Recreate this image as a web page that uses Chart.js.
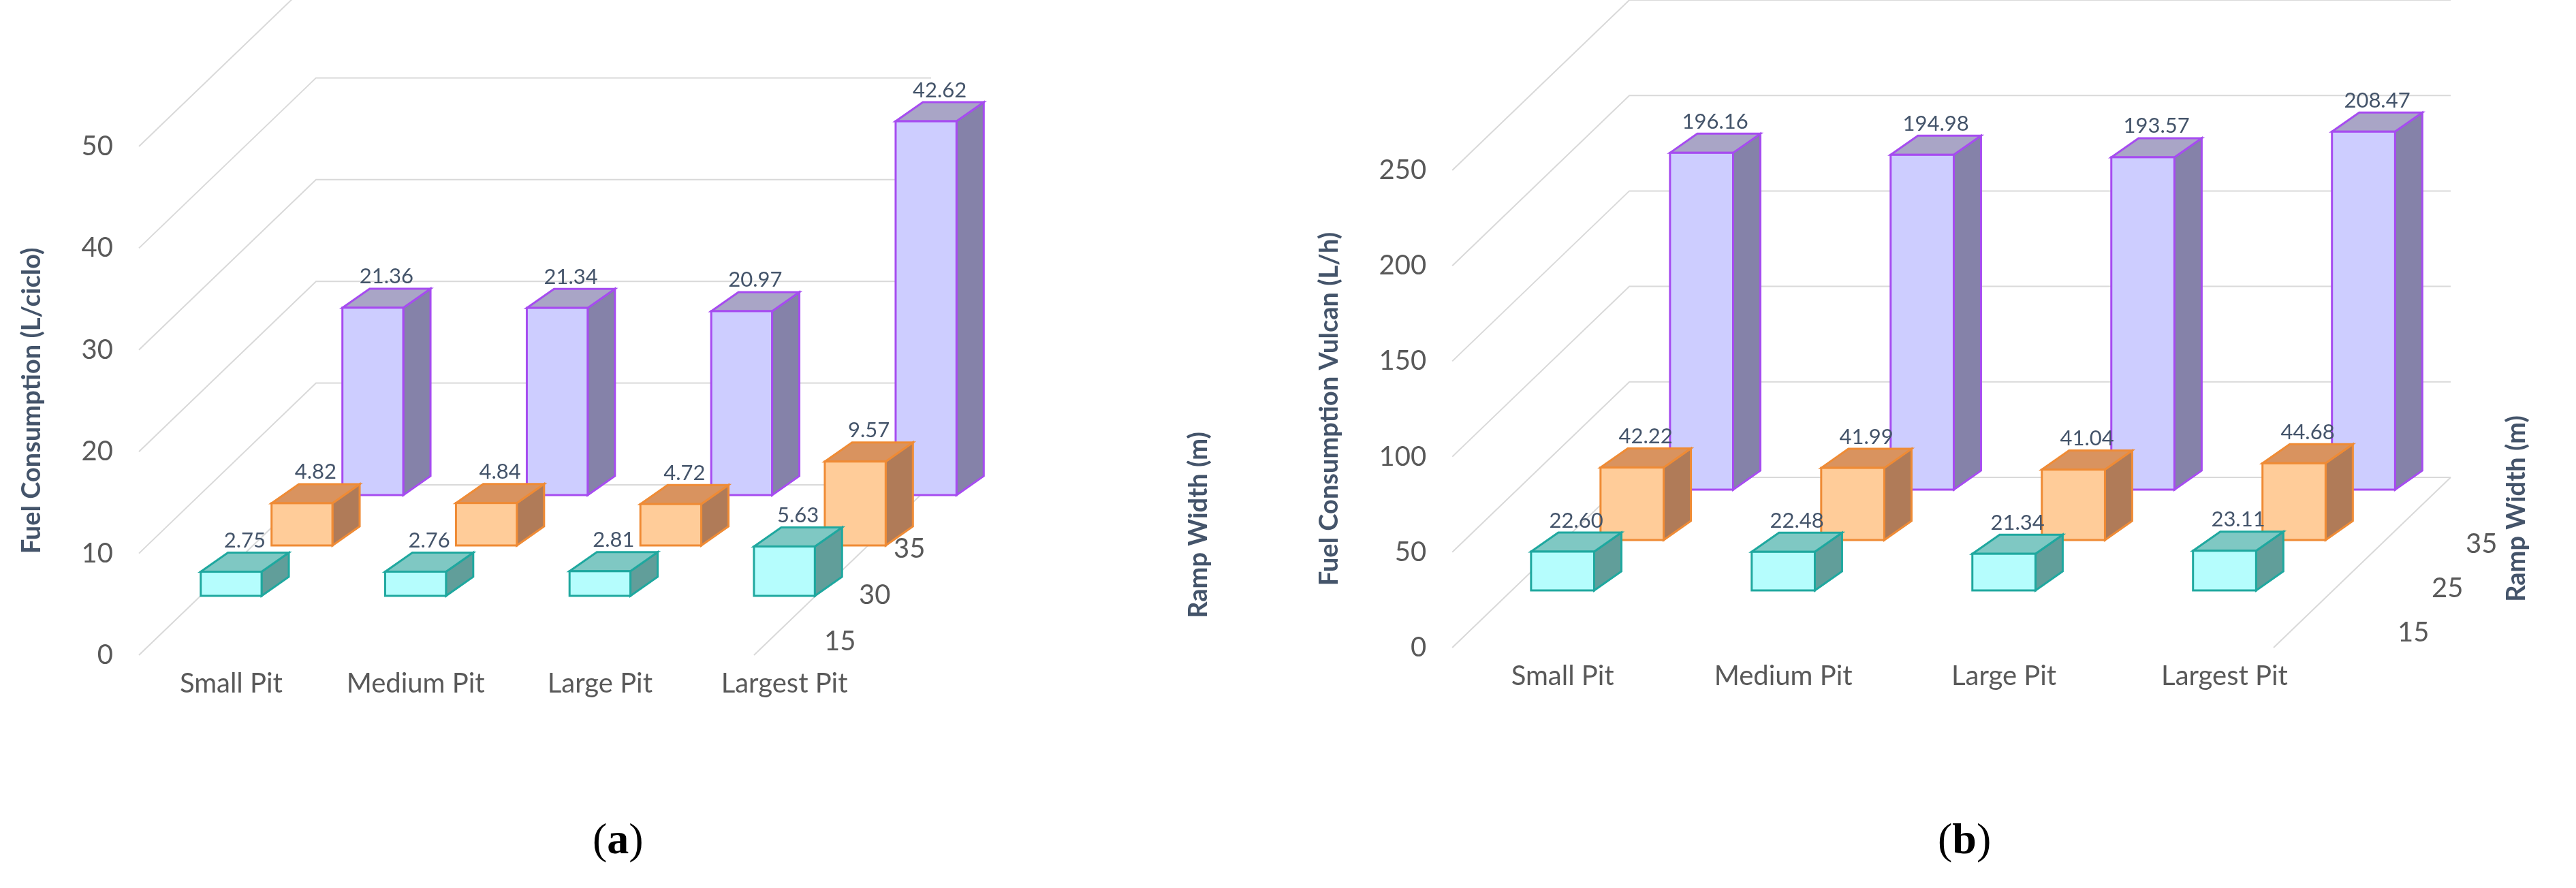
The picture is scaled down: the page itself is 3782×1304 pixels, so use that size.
<!DOCTYPE html>
<html>
<head>
<meta charset="utf-8">
<script src="https://cdn.jsdelivr.net/npm/chart.js@4.4.1/dist/chart.umd.min.js"></script>
<style>
  body { margin:0; background:#fff; width:3782px; height:1304px; position:relative; overflow:hidden; }
  canvas { position:absolute; top:0; }
  .cap { position:absolute; top:1195px; font-family:"Liberation Serif", serif; font-size:64px; color:#000; }
</style>
</head>
<body>
<canvas id="chartA" width="1860" height="1100" style="left:0"></canvas>
<canvas id="chartB" width="1877" height="1100" style="left:1905px"></canvas>
<div class="cap" style="left:870px">(<b>a</b>)</div>
<div class="cap" style="left:2845px">(<b>b</b>)</div>
<script>
// data
var pits = ['Small Pit', 'Medium Pit', 'Large Pit', 'Largest Pit'];

var rampA = ['15', '30', '35'];
var cicloW15 = [2.75, 2.76, 2.81, 5.63];
var cicloW30 = [4.82, 4.84, 4.72, 9.57];
var cicloW35 = [21.36, 21.34, 20.97, 42.62];
var ticksA = [0, 10, 20, 30, 40, 50];

var rampB = ['15', '25', '35'];
var vulcanW15 = [22.60, 22.48, 21.34, 23.11];
var vulcanW25 = [42.22, 41.99, 41.04, 44.68];
var vulcanW35 = [196.16, 194.98, 193.57, 208.47];
var ticksB = [0, 50, 100, 150, 200, 250];

var colors = [
    {front:'#b5fdfd', top:'#7fc8c3', side:'#619e9a', edge:'#1fa89f'},
    {front:'#ffcc99', top:'#d9935f', side:'#b07b58', edge:'#ef8b35'},
    {front:'#cdcdff', top:'#a9a5c6', side:'#8582a9', edge:'#a64cf0'}
];

function draw_box(ctx, x0, x1, yTop, yBot, dx, dy, c){
    ctx.lineWidth = 3;
    ctx.strokeStyle = c.edge;
    ctx.fillStyle = c.side;
    ctx.beginPath();
    ctx.moveTo(x1, yTop); ctx.lineTo(x1+dx, yTop-dy); ctx.lineTo(x1+dx, yBot-dy); ctx.lineTo(x1, yBot);
    ctx.closePath(); ctx.fill(); ctx.stroke();
    ctx.fillStyle = c.top;
    ctx.beginPath();
    ctx.moveTo(x0, yTop); ctx.lineTo(x0+dx, yTop-dy); ctx.lineTo(x1+dx, yTop-dy); ctx.lineTo(x1, yTop);
    ctx.closePath(); ctx.fill(); ctx.stroke();
    ctx.fillStyle = c.front;
    ctx.fillRect(x0, yTop, x1-x0, yBot-yTop);
    ctx.strokeRect(x0, yTop, x1-x0, yBot-yTop);
}

const box3d = {
    id: 'box3d',
    beforeDatasetsDraw(chart, args, o){
        var ctx = chart.ctx, a = chart.chartArea, ys = chart.scales.y;
        ctx.save();
        ctx.strokeStyle = '#d9d9d9';
        ctx.lineWidth = 2;
        ys.ticks.forEach(function(t){
            var y = ys.getPixelForValue(t.value);
            ctx.beginPath();
            ctx.moveTo(a.left, y);
            ctx.lineTo(a.left + o.wall[0], y - o.wall[1]);
            ctx.lineTo(a.right + o.wallRight, y - o.wall[1]);
            ctx.stroke();
        });
        var y0 = ys.getPixelForValue(0);
        ctx.beginPath();
        ctx.moveTo(a.right + o.wallRight - o.wall[0], y0);
        ctx.lineTo(a.right + o.wallRight, y0 - o.wall[1]);
        ctx.stroke();
        ctx.restore();
    },
    afterDatasetsDraw(chart, args, o){
        var ctx = chart.ctx, a = chart.chartArea, ys = chart.scales.y;
        ctx.save();
        for (var i = 2; i >= 0; i--){
            var meta = chart.getDatasetMeta(i);
            var sx = i * o.step[0], sy = o.lift + i * o.step[1];
            meta.data.forEach(function(bar, j){
                var x0 = bar.x - bar.width/2 + sx, x1 = bar.x + bar.width/2 + sx;
                var yTop = bar.y - sy, yBot = bar.base - sy;
                draw_box(ctx, x0, x1, yTop, yBot, o.depth[0], o.depth[1], colors[i]);
                var v = chart.data.datasets[i].data[j];
                ctx.fillStyle = '#44546a';
                ctx.font = '31px Lato';
                ctx.textAlign = 'center';
                ctx.textBaseline = 'bottom';
                ctx.fillText(v.toFixed(2), (x0 + x1)/2 + o.depth[0]/2, yTop - o.depth[1] - 2);
            });
        }
        // ramp width axis
        var y0 = ys.getPixelForValue(0);
        ctx.fillStyle = '#595959';
        ctx.font = '40px Lato';
        ctx.textAlign = 'left';
        ctx.textBaseline = 'middle';
        o.ramp.forEach(function(lab, i){
            ctx.fillText(lab, a.right + o.rampX + i*o.rampStep[0], y0 - o.rampY - i*o.rampStep[1]);
        });
        ctx.translate(o.titlePos[0], o.titlePos[1]);
        ctx.rotate(-Math.PI/2);
        ctx.textAlign = 'center';
        ctx.fillStyle = '#44546a';
        ctx.font = 'bold 38px Lato';
        ctx.fillText('Ramp Width (m)', 0, 0);
        ctx.restore();
    }
};

function make_chart(id, series, ramp, ticks, barMax, yTitle, pad, barPct, extra){
    var ctx = document.getElementById(id).getContext('2d');
    return new Chart(ctx, {
        type: 'bar',
        data: {
            labels: pits,
            datasets: series.map(function(d, i){
                return {label: ramp[i], data: d, grouped: false, yAxisID: 'yb',
                        backgroundColor: 'rgba(0,0,0,0)', borderWidth: 0,
                        barPercentage: barPct, categoryPercentage: 0.55};
            })
        },
        options: {
            responsive: false,
            animation: false,
            devicePixelRatio: 1,
            layout: {padding: pad},
            plugins: {
                legend: {display: false},
                tooltip: {enabled: false},
                box3d: extra
            },
            scales: {
                x: {
                    grid: {display: false}, border: {display: false},
                    ticks: {color: '#595959', font: {family: 'Lato', size: 40}, padding: 10}
                },
                y: {
                    min: ticks[0], max: ticks[ticks.length-1],
                    afterBuildTicks: function(s){ s.ticks = ticks.map(function(v){ return {value: v}; }); },
                    grid: {display: false}, border: {display: false},
                    ticks: {color: '#595959', font: {family: 'Lato', size: 40}, padding: 30},
                    title: {display: true, text: yTitle, color: '#44546a',
                            font: {family: 'Lato', size: 38, weight: 'bold'}, padding: {bottom: 20}}
                },
                // perspective: bars stand on a shorter scale than the front axis
                yb: {display: false, min: 0, max: barMax}
            }
        },
        plugins: [box3d]
    });
}

make_chart('chartA', [cicloW15, cicloW30, cicloW35], rampA, ticksA, 58,
    'Fuel Consumption (L/ciclo)',
    {top: 215, right: 573, bottom: 62, left: 20}, 0.6,
    {step: [104, 74], lift: 87, depth: [40, 28], wall: [260, 250], wallRight: 80,
     ramp: rampA, rampX: -77, rampY: 20, rampStep: [51, 68], titlePos: [1760, 771]});

make_chart('chartB', [vulcanW15, vulcanW25, vulcanW35], rampB, ticksB, 278,
    'Fuel Consumption Vulcan (L/h)',
    {top: 250, right: 354, bottom: 73, left: 20}, 0.52,
    {step: [102, 74], lift: 84, depth: [40, 28], wall: [260, 250], wallRight: 170,
     ramp: rampB, rampX: 92, rampY: 22, rampStep: [50, 65], titlePos: [1790, 747]});
</script>
</body>
</html>
